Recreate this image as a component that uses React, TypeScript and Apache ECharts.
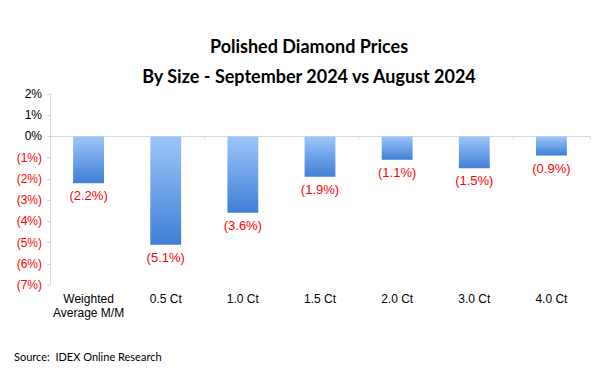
import React, { useEffect, useRef } from "react";
import * as echarts from "echarts";

const categories = ["Weighted\nAverage M/M", "0.5 Ct", "1.0 Ct", "1.5 Ct", "2.0 Ct", "3.0 Ct", "4.0 Ct"];
const values = [-2.2, -5.1, -3.6, -1.9, -1.1, -1.5, -0.9];
const titleLines = ["Polished Diamond Prices", "By Size - September 2024 vs August 2024"];
const sourceText = "Source:  IDEX Online Research";

const fmtPct = (v: number, digits: number) =>
  v < 0 ? `(${Math.abs(v).toFixed(digits)}%)` : `${v.toFixed(digits)}%`;

export default function App() {
  const ref = useRef<HTMLDivElement>(null);
  useEffect(() => {
    const chart = echarts.init(ref.current!, null, { renderer: "svg" });
    chart.setOption({
      animation: false,
      backgroundColor: "#ffffff",
      title: {
        text: titleLines.join("\n"),
        left: "center",
        top: 18,
        textStyle: {
          fontFamily: "Lato, 'Open Sans', sans-serif",
          fontWeight: "bold",
          fontSize: 18,
          lineHeight: 30,
          color: "#000",
        },
      },
      graphic: [
        {
          type: "text",
          left: 6,
          top: 343,
          style: {
            text: sourceText,
            fontFamily: "Lato, 'Open Sans', sans-serif",
            fontSize: 11,
            fill: "#000",
          },
        },
      ],
      grid: { left: 42, right: 20, top: 86, bottom: 91 },
      xAxis: [
        {
          type: "category",
          data: categories,
          position: "bottom",
          axisLine: { show: false, onZero: false },
          axisTick: { show: false },
          axisLabel: {
            margin: 7,
            fontFamily: "Arial, 'Liberation Sans', sans-serif",
            fontSize: 12,
            lineHeight: 14,
            color: "#000",
            interval: 0,
          },
        },
        {
          type: "category",
          data: categories,
          position: "bottom",
          axisLine: { show: true, onZero: true, lineStyle: { color: "#d9d9d9", width: 1 } },
          axisTick: { show: true, length: 3, lineStyle: { color: "#d9d9d9" } },
          axisLabel: { show: false },
        },
      ],
      yAxis: {
        type: "value",
        min: -7,
        max: 2,
        interval: 1,
        axisLine: { show: true, lineStyle: { color: "#d9d9d9" } },
        axisTick: { show: true, length: 3, lineStyle: { color: "#d9d9d9" } },
        splitLine: { show: false },
        axisLabel: {
          margin: 8,
          fontFamily: "Arial, 'Liberation Sans', sans-serif",
          fontSize: 12,
          formatter: (v: number) => fmtPct(v, 0),
          color: (v: any) => (Number(v) < 0 ? "#ff0000" : "#000000"),
        },
      },
      series: [
        {
          type: "bar",
          data: values,
          xAxisIndex: 0,
          barWidth: "40%",
          itemStyle: {
            color: new echarts.graphic.LinearGradient(0, 0, 0, 1, [
              { offset: 0, color: "#9ec5fa" },
              { offset: 1, color: "#3f7fd6" },
            ]),
          },
          label: {
            show: true,
            position: "bottom",
            distance: 6,
            formatter: (p: any) => fmtPct(p.value, 1),
            color: "#ff0000",
            fontFamily: "Arial, 'Liberation Sans', sans-serif",
            fontSize: 13,
          },
        },
      ],
    });
    return () => chart.dispose();
  }, []);
  return <div ref={ref} style={{ width: 602, height: 368 }} />;
}
